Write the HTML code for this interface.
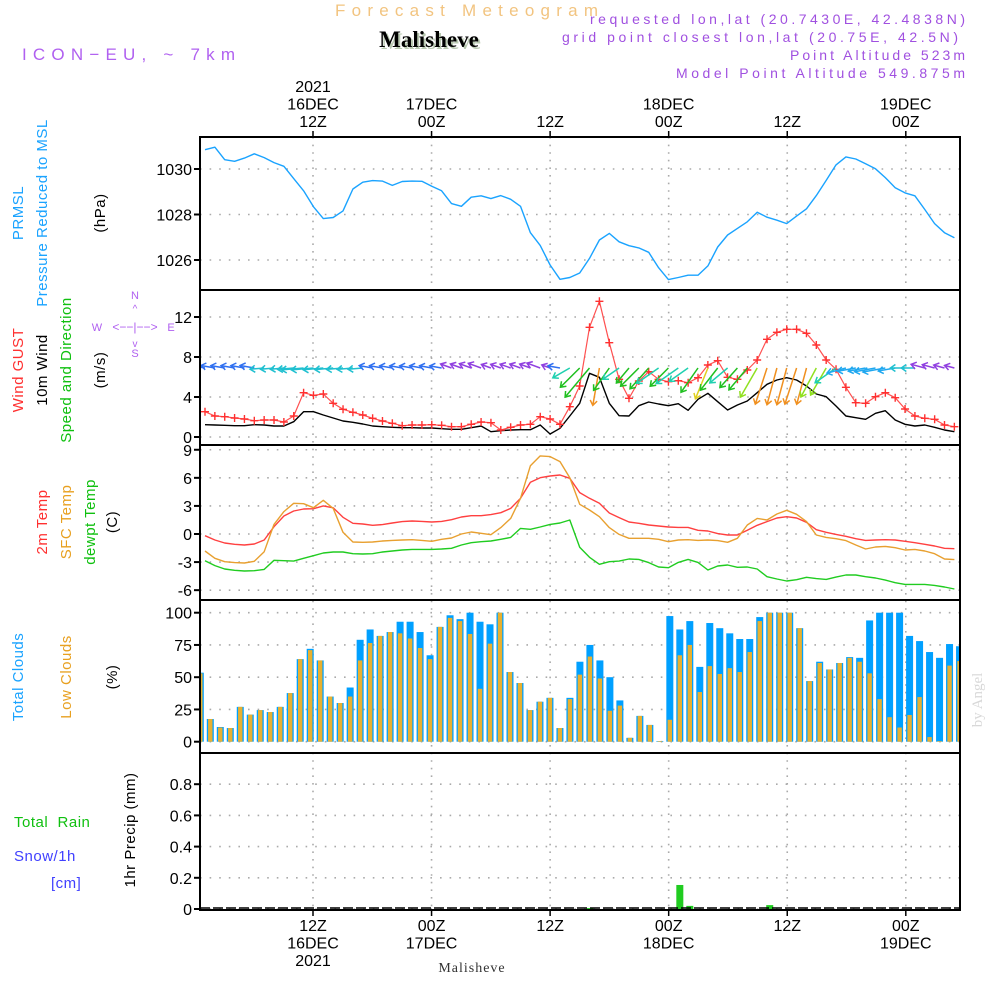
<!DOCTYPE html>
<html><head><meta charset="utf-8"><style>
body{margin:0;background:#fff;}
svg{display:block;font-family:"Liberation Sans",sans-serif;}
</style></head><body>
<svg id="chart" width="1000" height="1000" viewBox="0 0 1000 1000">
<g id="static">
<text x="335" y="16" font-size="17" fill="#f2c480" textLength="263" lengthAdjust="spacing">Forecast Meteogram</text>
<text x="431" y="49" font-size="23" font-weight="bold" fill="#b8c8b0" text-anchor="middle" font-family="Liberation Serif,serif">Malisheve</text>
<text x="429" y="47" font-size="23" font-weight="bold" fill="#000" text-anchor="middle" font-family="Liberation Serif,serif">Malisheve</text>
<text x="22" y="60" font-size="17" fill="#b060f0" textLength="213" lengthAdjust="spacing">ICON−EU, ~ 7km</text>
<g font-size="14" fill="#a050e0">
<text x="590" y="24" textLength="375" lengthAdjust="spacing">requested lon,lat (20.7430E, 42.4838N)</text>
<text x="562" y="42" textLength="396" lengthAdjust="spacing">grid point closest lon,lat (20.75E, 42.5N)</text>
<text x="790" y="60" textLength="175" lengthAdjust="spacing">Point Altitude 523m</text>
<text x="676" y="78" textLength="289" lengthAdjust="spacing">Model Point Altitude 549.875m</text>
</g>
<g font-size="15" letter-spacing="0.5">
<text transform="translate(23,213) rotate(-90)" text-anchor="middle" fill="#1aa3ff">PRMSL</text>
<text transform="translate(47,213) rotate(-90)" text-anchor="middle" fill="#1aa3ff">Pressure Reduced to MSL</text>
<text transform="translate(105,213) rotate(-90)" text-anchor="middle" fill="#000">(hPa)</text>
<text transform="translate(23,370) rotate(-90)" text-anchor="middle" fill="#ff3030">Wind GUST</text>
<text transform="translate(47,370) rotate(-90)" text-anchor="middle" fill="#000">10m Wind</text>
<text transform="translate(71,370) rotate(-90)" text-anchor="middle" fill="#10c010">Speed and Direction</text>
<text transform="translate(105,370) rotate(-90)" text-anchor="middle" fill="#000">(m/s)</text>
<text transform="translate(47,522) rotate(-90)" text-anchor="middle" fill="#ff3030">2m Temp</text>
<text transform="translate(71,522) rotate(-90)" text-anchor="middle" fill="#e8a020">SFC Temp</text>
<text transform="translate(95,522) rotate(-90)" text-anchor="middle" fill="#10c010">dewpt Temp</text>
<text transform="translate(117,522) rotate(-90)" text-anchor="middle" fill="#000">(C)</text>
<text transform="translate(23,677) rotate(-90)" text-anchor="middle" fill="#1aa3ff">Total Clouds</text>
<text transform="translate(71,677) rotate(-90)" text-anchor="middle" fill="#e8a020">Low Clouds</text>
<text transform="translate(117,677) rotate(-90)" text-anchor="middle" fill="#000">(%)</text>
<text transform="translate(135,830) rotate(-90)" text-anchor="middle" fill="#000">1hr Precip (mm)</text>
<text x="14" y="827" fill="#10c010" xml:space="preserve">Total  Rain</text>
<text x="14" y="861" fill="#4040ff">Snow/1h</text>
<text x="51" y="888" fill="#4040ff">[cm]</text>
</g>
<g fill="#b060f0" stroke="none" font-size="11">
<text x="135" y="299" text-anchor="middle">N</text>
<text x="97" y="331" text-anchor="middle">W</text>
<text x="171" y="331" text-anchor="middle">E</text>
<text x="135" y="357" text-anchor="middle">S</text>
<text x="135" y="331" text-anchor="middle" font-size="12">&lt;−−|−−&gt;</text>
<text x="135" y="312" text-anchor="middle" font-size="10">^</text>
<text x="135" y="347" text-anchor="middle" font-size="10">v</text>
</g>
<text transform="translate(982,700) rotate(-90)" text-anchor="middle" font-size="15" fill="#d8d8d8" font-family="Liberation Serif,serif">by Angel</text>
<text x="472" y="972" font-size="14" text-anchor="middle" fill="#333" font-family="Liberation Serif,serif" letter-spacing="1">Malisheve</text>
</g>
<g id="dyn"></g>
</svg>
<script>
// ===== data =====
const timeTickLabelsTop = [["2021","16DEC","12Z"],["17DEC","00Z"],["12Z"],["18DEC","00Z"],["12Z"],["19DEC","00Z"]];
const timeTickLabelsBottom = [["12Z","16DEC","2021"],["00Z","17DEC"],["12Z"],["00Z","18DEC"],["12Z"],["00Z","19DEC"]];
const timeTickHours = [0,12,24,36,48,60];
const pressure = [1030.85,1030.96,1030.41,1030.34,1030.48,1030.67,1030.5,1030.28,1030.12,1029.58,1029.04,1028.34,1027.82,1027.87,1028.16,1029.12,1029.42,1029.49,1029.47,1029.28,1029.45,1029.47,1029.46,1029.24,1029.04,1028.48,1028.36,1028.76,1028.82,1028.7,1028.83,1028.67,1028.36,1027.2,1026.64,1025.78,1025.15,1025.23,1025.43,1026.07,1026.88,1027.17,1026.8,1026.63,1026.53,1026.34,1025.66,1025.14,1025.23,1025.33,1025.33,1025.74,1026.57,1027.1,1027.39,1027.68,1028.1,1027.88,1027.75,1027.6,1027.93,1028.25,1028.83,1029.5,1030.18,1030.53,1030.44,1030.23,1030.01,1029.62,1029.18,1028.95,1028.82,1028.22,1027.6,1027.2,1026.98];
const pressureTicks = [1026,1028,1030];
const gust = [2.53,2.1,2.03,1.9,1.8,1.63,1.7,1.7,1.5,2.1,4.43,4.17,4.3,3.37,2.77,2.47,2.2,1.87,1.6,1.37,1.13,1.2,1.2,1.23,1.17,1.03,1.03,1.27,1.5,1.43,0.7,0.97,1.2,1.27,2.03,1.8,1.27,3.03,5.1,10.97,13.57,9.43,5.77,3.87,5.6,6.53,5.77,5.53,5.63,5.43,5.93,7.2,7.63,5.97,5.77,6.7,7.7,9.77,10.47,10.77,10.77,10.37,9.2,7.7,6.77,4.97,3.43,3.37,4.03,4.43,3.93,2.8,2.1,1.87,1.77,1.2,1.03];
const wind = [1.23,1.2,1.17,1.13,1.13,1.23,1.2,1.1,1.1,1.53,2.53,2.53,2.2,1.9,1.6,1.47,1.3,1.1,1.03,0.97,0.93,0.93,0.9,0.9,0.83,0.77,0.77,0.93,1.1,0.53,0.63,0.7,0.73,0.73,1.2,0.3,0.87,2.1,3.37,6.37,5.97,3.37,2.13,2.1,3.13,3.5,3.3,3.13,3.33,2.67,3.77,4.37,3.53,2.7,3.2,3.6,4.43,5.27,5.7,5.93,5.7,5.1,4.3,4.03,3.1,2.1,1.93,1.77,2.37,2.63,1.7,1.27,1.1,1.2,0.97,0.7,0.53];
const windFrom = [100,100,100,100,100,100,85,85,85,85,85,85,85,85,85,85,85,100,100,100,100,100,100,100,100,110,110,110,110,110,110,110,110,110,110,110,100,60,45,40,10,35,55,40,45,42,55,45,55,55,35,22,38,50,42,40,30,18,15,15,18,15,28,30,55,75,80,80,80,80,80,90,90,105,105,105,105];
const windTicks = [0,4,8,12];
const temp2m = [-0.18,-0.64,-0.96,-1.1,-1.18,-1.07,-0.64,0.78,1.92,2.46,2.67,2.7,3.0,2.8,1.78,1.14,1.07,0.93,1.0,1.18,1.32,1.39,1.35,1.28,1.35,1.53,1.82,1.96,1.96,2.07,2.28,2.74,3.81,5.52,6.02,6.2,6.3,5.95,4.42,3.81,3.28,2.24,1.75,1.28,1.14,0.96,0.86,0.75,0.71,0.71,0.39,0.32,0.04,-0.11,-0.11,0.39,0.93,1.32,1.71,1.85,1.71,1.25,0.46,0.18,-0.04,-0.25,-0.5,-0.68,-0.64,-0.61,-0.64,-0.78,-0.93,-1.1,-1.28,-1.53,-1.57];
const tempSfc = [-1.82,-2.6,-2.96,-3.06,-3.1,-2.92,-1.89,1.03,2.39,3.28,3.24,2.81,3.6,2.74,0.18,-0.86,-0.89,-0.86,-0.75,-0.68,-0.64,-0.61,-0.68,-0.78,-0.57,-0.43,0,0.21,0.07,-0.07,0.68,1.67,3.81,7.3,8.34,8.27,7.73,6.02,3.17,2.56,1.85,0.68,-0.04,-0.46,-0.46,-0.46,-0.57,-0.82,-0.64,-0.61,-0.68,-0.64,-0.71,-0.89,-0.46,0.96,1.67,1.5,2.14,2.53,2.1,1.32,-0.11,-0.36,-0.5,-0.71,-1.18,-1.6,-1.39,-1.32,-1.46,-1.71,-1.64,-1.82,-2.1,-2.67,-2.74];
const dewpt = [-2.85,-3.38,-3.74,-3.88,-3.95,-3.92,-3.78,-2.81,-2.85,-2.89,-2.6,-2.32,-2.03,-1.92,-1.92,-2.1,-2.14,-2.1,-1.92,-1.82,-1.71,-1.64,-1.64,-1.64,-1.6,-1.53,-1.18,-0.93,-0.82,-0.75,-0.57,-0.36,0.6,0.5,0.75,1.03,1.18,1.5,-1.42,-2.49,-3.24,-2.96,-2.89,-2.67,-2.71,-3.06,-3.53,-3.6,-3.03,-2.71,-3.03,-3.85,-3.42,-3.31,-3.56,-3.53,-3.74,-4.56,-4.81,-5.02,-4.88,-4.63,-4.77,-4.85,-4.6,-4.38,-4.38,-4.56,-4.7,-4.92,-5.2,-5.38,-5.38,-5.38,-5.49,-5.66,-5.88];
const tempTicks = [-6,-3,0,3,6,9];
const totalClouds = [53.5,17.6,11.4,10.6,27,21,24.5,23,27,37.7,64,72,63,35,30,42,79,87,82,85,93,93,85,67,89,98,95,100,93,91,100,54,45.5,24.5,31,34,10.6,34,62,75,63,50,32,3,20,13,0.5,97.4,87,93.5,58,92,88,84,79.6,79.6,96.6,100,100,100,88,47,62,56,61,65.6,65,94,100,100,100,82,78,69.5,65,75.7,74];
const lowClouds = [53,17.6,11,10.6,27,21,24.5,23,27,37.7,64,71,63,35,30,35,63,76.5,82,85,84,80,72.6,64,89,96,93.5,83.5,41,76,100,54,45.5,24.5,31,34,10.6,33,52,66,49,24,28,3,20,13,0.5,17,67,75,38.5,58.6,52.5,57,54,69.5,93.5,100,100,100,88,47,61,56,61,65,62,53,33,19,11,20.7,34.6,3.6,0.5,59,62.5];
const cloudTicks = [0,25,50,75,100];
const rainHours = [39,48,49,57];
const rainValues = [0.006,0.154,0.02,0.025];
const precipTicks = [0,0.2,0.4,0.6,0.8];

// ===== scales =====
const xHour = h => 313 + h*9.88;
const xl = i => 205 + i*9.86;
const xb = i => 200.3 + i*9.99;
const yP = v => 169 + (1030 - v)*22.75;
const yW = v => 437 - v*10;
const yT = v => 534 - v*9.36;
const yC = v => 741.7 - v*1.29;
const yR = v => 909 - v*156;

const NS = "http://www.w3.org/2000/svg";
const root = document.getElementById('dyn');
function mk(tag, attrs, parent){ const e=document.createElementNS(NS,tag); for(const k in attrs) e.setAttribute(k,attrs[k]); (parent||root).appendChild(e); return e; }

const panels = [[137,290],[290,445],[445,600],[600,753],[753,910]];
const L=200, R=960;

const defs = mk('defs',{});
const cp = mk('clipPath',{id:'plotclip'},defs);
mk('rect',{x:L,y:137,width:R-L,height:773},cp);

timeTickHours.forEach(h=>{
  const g = mk('line',{x1:xHour(h),x2:xHour(h),y1:137,y2:910,stroke:'#aaa','stroke-width':1.6,'stroke-dasharray':'1.6 6'});
  
  
});

function yAxis(ticks, sc, fmt, name){
  ticks.forEach(t=>{
    const y=sc(t);
    const gl = mk('line',{x1:L,x2:R,y1:y,y2:y,stroke:'#aaa','stroke-width':1.6,'stroke-dasharray':'1.6 8'});
    
    
    mk('line',{x1:L-6,x2:L,y1:y,y2:y,stroke:'#000','stroke-width':2});
    const tx = mk('text',{x:L-8,y:y+6,'font-size':16,'text-anchor':'end',fill:'#000'});
    tx.textContent = fmt(t);
    
    
  });
}
yAxis(pressureTicks,yP,t=>t,'pressure');
yAxis(windTicks,yW,t=>t,'wind');
yAxis(tempTicks,yT,t=>t,'temp');
yAxis(cloudTicks,yC,t=>t,'cloud');
yAxis(precipTicks,yR,t=>t===0?'0':t.toFixed(1),'precip');

const plot = mk('g',{'clip-path':'url(#plotclip)'});

function line(arr, xf, yf, color, name, w){
  const p = mk('polyline',{points:arr.map((v,i)=>xf(i).toFixed(1)+','+yf(v).toFixed(1)).join(' '),fill:'none',stroke:color,'stroke-width':w||1.4,'stroke-linejoin':'round'},plot);
  
  
}
line(pressure,xl,yP,'#1aa3ff','pressure-line');

totalClouds.forEach((v,i)=>{
  const r = mk('rect',{x:xb(i)-3.5,y:yC(v),width:7,height:yC(0)-yC(v),fill:'#00a0ff'},plot);
  
  
});
lowClouds.forEach((v,i)=>{
  const r = mk('rect',{x:xb(i)-2.2,y:yC(v),width:4.4,height:yC(0)-yC(v),fill:'#e8b030'},plot);
  
  
});

rainHours.forEach((h,k)=>{
  const r = mk('rect',{x:xb(h)-3.5,y:yR(rainValues[k]),width:7,height:yR(0)-yR(rainValues[k]),fill:'#20cc20'},plot);
  
  
});
mk('line',{x1:L,x2:R,y1:908,y2:908,stroke:'#000','stroke-width':1.5,'stroke-dasharray':'10 3'},plot);

line(temp2m,xl,yT,'#ff4040','temp-2m-line');
line(tempSfc,xl,yT,'#e8a030','temp-sfc-line');
line(dewpt,xl,yT,'#20cc20','dewpoint-line');

line(wind,xl,yW,'#000','wind-speed-line');
line(gust,xl,yW,'#ff5050','wind-gust-line',1.2);
gust.forEach((v,i)=>{
  const x=xl(i), y=yW(v);
  const m = mk('path',{d:`M${x-4},${y}H${x+4}M${x},${y-4}V${y+4}`,stroke:'#ff3030','stroke-width':1.4},plot);
  
  
});
function dirColor(d){
  if(d<=20) return '#f09020';
  if(d<=26) return '#e0d020';
  if(d<=33) return '#90e020';
  if(d<=46) return '#20c020';
  if(d<=60) return '#20d0b0';
  if(d<=80) return '#20a8f0';
  if(d<=95) return '#20c0d0';
  if(d<=102) return '#3070f0';
  return '#9040e0';
}
windFrom.forEach((d,i)=>{
  const sp = wind[i];
  const len = Math.min(38, 7 + 6*sp);
  const a = (d+180)*Math.PI/180;
  const dx = Math.sin(a), dy = -Math.cos(a);
  const x0 = xl(i), y0 = 368;
  const x1 = x0+dx*len, y1 = y0+dy*len;
  const c = dirColor(d);
  const hx = -dx*5, hy = -dy*5;
  const px = -dy*3.5, py = dx*3.5;
  const ar = mk('path',{d:`M${x0.toFixed(1)},${y0}L${x1.toFixed(1)},${y1.toFixed(1)}M${(x1+hx+px).toFixed(1)},${(y1+hy+py).toFixed(1)}L${x1.toFixed(1)},${y1.toFixed(1)}L${(x1+hx-px).toFixed(1)},${(y1+hy-py).toFixed(1)}`,stroke:c,'stroke-width':1.5,fill:'none'},plot);
  
  
});

panels.forEach(([t,b])=>{
  const f = mk('rect',{x:L,y:t,width:R-L,height:b-t,fill:'none',stroke:'#000','stroke-width':2});
  
  
});

timeTickHours.forEach((h,k)=>{
  const x = xHour(h);
  mk('line',{x1:x,x2:x,y1:131,y2:137,stroke:'#000','stroke-width':1.5});
  mk('line',{x1:x,x2:x,y1:910,y2:916,stroke:'#000','stroke-width':1.5});
  const top = timeTickLabelsTop[k];
  top.forEach((s,j)=>{
    const t = mk('text',{x:x,y:127-(top.length-1-j)*17.5,'font-size':16,'text-anchor':'middle',fill:'#000'});
    t.textContent=s;
    
    
  });
  timeTickLabelsBottom[k].forEach((s,j)=>{
    const t = mk('text',{x:x,y:931+j*17.5,'font-size':16,'text-anchor':'middle',fill:'#000'});
    t.textContent=s;
    
    
  });
});
</script>
</body></html>
